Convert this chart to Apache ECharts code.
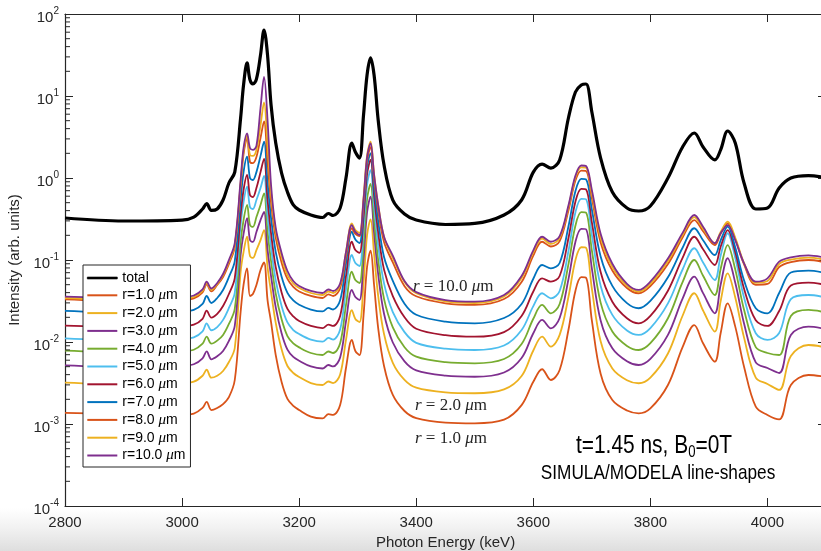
<!DOCTYPE html>
<html>
<head>
<meta charset="utf-8">
<script src="https://cdn.jsdelivr.net/npm/echarts@6/dist/echarts.min.js"></script>
<style>
html, body { margin: 0; padding: 0; background: #ffffff; }
#chart { width: 821px; height: 551px; }
</style>
</head>
<body>
<div id="chart"></div>
<script>
// Photon energy grid (keV) shared by every spectrum
const energy = [2800, 2900, 3000, 3020, 3035, 3042, 3050, 3060, 3070, 3080,
  3090, 3100, 3105, 3111, 3116, 3121, 3127, 3134, 3140, 3146,
  3152, 3160, 3170, 3180, 3190, 3200, 3220, 3240, 3250, 3258,
  3270, 3280, 3290, 3296, 3303, 3310, 3316, 3322, 3328, 3335,
  3345, 3360, 3380, 3400, 3450, 3500, 3550, 3580, 3600, 3615,
  3630, 3645, 3660, 3672, 3682, 3690, 3700, 3715, 3735, 3760,
  3780, 3800, 3830, 3855, 3875, 3890, 3910, 3920, 3932, 3945,
  3960, 3980, 4000, 4020, 4040, 4070, 4100];

// Total intensity (arb. units)
const total = [0.325, 0.299, 0.307, 0.334, 0.419, 0.489, 0.402, 0.419, 0.539, 0.869,
  1.18, 5.39, 13.6, 25.3, 15.7, 14.0, 16.1, 31.6, 63.8, 31.6,
  7.77, 2.67, 1.15, 0.675, 0.469, 0.407, 0.354, 0.330, 0.369, 0.349,
  0.431, 1.00, 2.67, 2.08, 1.75, 5.87, 18.0, 29.1, 18.0, 5.10,
  1.44, 0.539, 0.364, 0.307, 0.271, 0.279, 0.354, 0.539, 1.18, 1.48,
  1.32, 1.66, 5.39, 11.2, 13.6, 14.0, 6.38, 1.75, 0.675, 0.431,
  0.396, 0.456, 1.00, 2.39, 3.54, 2.39, 1.66, 2.20, 3.74, 2.67,
  0.869, 0.419, 0.431, 0.755, 1.00, 1.07, 1.01];

// Emission from shells of radius r
const r1 = [0.00137, 0.00132, 0.00129, 0.00134, 0.00157, 0.00186, 0.00148, 0.00157, 0.00175, 0.00213,
  0.00344, 0.0232, 0.0496, 0.0792, 0.0364, 0.0385, 0.0496, 0.0755, 0.0932, 0.0325,
  0.0175, 0.00693, 0.00325, 0.00202, 0.00166, 0.00148, 0.00123, 0.00117, 0.00132, 0.00129,
  0.00170, 0.00482, 0.0106, 0.00777, 0.00693, 0.0212, 0.0821, 0.130, 0.0496, 0.0148,
  0.00510, 0.00226, 0.00144, 0.00118, 0.00104, 0.00102, 0.00113, 0.00170, 0.00327, 0.00465,
  0.00344, 0.00456, 0.0140, 0.0422, 0.0617, 0.0608, 0.0183, 0.00411, 0.00196, 0.00146,
  0.00135, 0.00155, 0.00299, 0.00867, 0.0161, 0.00964, 0.00575, 0.0128, 0.0296, 0.0154,
  0.00500, 0.00163, 0.00129, 0.00114, 0.00299, 0.00396, 0.00374];
const r2 = [0.00319, 0.00306, 0.00315, 0.00328, 0.00388, 0.00459, 0.00367, 0.00388, 0.00443, 0.00570,
  0.00845, 0.0714, 0.125, 0.192, 0.112, 0.106, 0.132, 0.175, 0.232, 0.0821,
  0.0407, 0.0171, 0.00815, 0.00510, 0.00419, 0.00374, 0.00316, 0.00299, 0.00330, 0.00316,
  0.00402, 0.0106, 0.0245, 0.0191, 0.0175, 0.0529, 0.201, 0.313, 0.118, 0.0365,
  0.0125, 0.00558, 0.00345, 0.00277, 0.00243, 0.00237, 0.00264, 0.00385, 0.00788, 0.0116,
  0.00877, 0.0122, 0.0354, 0.100, 0.143, 0.141, 0.0448, 0.0102, 0.00476, 0.00342,
  0.00314, 0.00368, 0.00724, 0.0209, 0.0393, 0.0242, 0.0134, 0.0314, 0.0688, 0.0349,
  0.0113, 0.00367, 0.00308, 0.00260, 0.00675, 0.00919, 0.00857];
const r3 = [0.00520, 0.00498, 0.00513, 0.00535, 0.00633, 0.00770, 0.00615, 0.00669, 0.00777, 0.0103,
  0.0157, 0.115, 0.208, 0.323, 0.175, 0.166, 0.220, 0.307, 0.385, 0.134,
  0.0638, 0.0264, 0.0128, 0.00805, 0.00657, 0.00590, 0.00503, 0.00475, 0.00524, 0.00503,
  0.00647, 0.0178, 0.0431, 0.0354, 0.0325, 0.101, 0.380, 0.592, 0.215, 0.0673,
  0.0221, 0.00986, 0.00580, 0.00451, 0.00389, 0.00377, 0.00425, 0.00638, 0.0128, 0.0186,
  0.0147, 0.0196, 0.0580, 0.167, 0.240, 0.237, 0.0790, 0.0183, 0.00838, 0.00582,
  0.00524, 0.00622, 0.0122, 0.0338, 0.0626, 0.0394, 0.0224, 0.0500, 0.105, 0.0527,
  0.0168, 0.00564, 0.00482, 0.00419, 0.0122, 0.0154, 0.0144];
const r4 = [0.00783, 0.00751, 0.00772, 0.00805, 0.00954, 0.0116, 0.00954, 0.0104, 0.0122, 0.0166,
  0.0253, 0.166, 0.307, 0.469, 0.267, 0.253, 0.334, 0.469, 0.651, 0.220,
  0.0972, 0.0389, 0.0189, 0.0118, 0.00961, 0.00859, 0.00734, 0.00694, 0.00766, 0.00734,
  0.00964, 0.0283, 0.0720, 0.0570, 0.0524, 0.154, 0.553, 0.845, 0.308, 0.0994,
  0.0336, 0.0151, 0.00864, 0.00662, 0.00567, 0.00550, 0.00621, 0.00945, 0.0192, 0.0283,
  0.0224, 0.0291, 0.0886, 0.263, 0.383, 0.378, 0.131, 0.0302, 0.0134, 0.00896,
  0.00799, 0.00967, 0.0195, 0.0538, 0.100, 0.0642, 0.0374, 0.0777, 0.152, 0.0764,
  0.0247, 0.00867, 0.00734, 0.00694, 0.0208, 0.0246, 0.0229];
const r5 = [0.0111, 0.0106, 0.0109, 0.0114, 0.0135, 0.0169, 0.0139, 0.0152, 0.0186, 0.0260,
  0.0396, 0.267, 0.510, 0.783, 0.443, 0.419, 0.539, 0.755, 1.06, 0.347,
  0.143, 0.0565, 0.0275, 0.0173, 0.0140, 0.0125, 0.0107, 0.0101, 0.0112, 0.0107,
  0.0142, 0.0436, 0.115, 0.0919, 0.0845, 0.239, 0.826, 1.25, 0.456, 0.150,
  0.0518, 0.0231, 0.0132, 0.00978, 0.00828, 0.00799, 0.00906, 0.0140, 0.0274, 0.0393,
  0.0341, 0.0419, 0.128, 0.383, 0.558, 0.550, 0.203, 0.0486, 0.0214, 0.0138,
  0.0122, 0.0148, 0.0296, 0.0766, 0.139, 0.0930, 0.0570, 0.113, 0.212, 0.106,
  0.0348, 0.0128, 0.0106, 0.0129, 0.0334, 0.0374, 0.0349];
const r6 = [0.0158, 0.0152, 0.0156, 0.0163, 0.0192, 0.0241, 0.0198, 0.0220, 0.0275, 0.0385,
  0.0603, 0.354, 0.714, 1.09, 0.620, 0.586, 0.755, 1.18, 1.71, 0.545,
  0.211, 0.0817, 0.0402, 0.0253, 0.0205, 0.0180, 0.0157, 0.0148, 0.0163, 0.0157,
  0.0208, 0.0634, 0.167, 0.132, 0.122, 0.334, 1.11, 1.66, 0.615, 0.217,
  0.0764, 0.0363, 0.0200, 0.0145, 0.0121, 0.0116, 0.0132, 0.0208, 0.0413, 0.0598,
  0.0544, 0.0638, 0.184, 0.517, 0.738, 0.728, 0.287, 0.0712, 0.0310, 0.0195,
  0.0169, 0.0208, 0.0422, 0.106, 0.192, 0.135, 0.0869, 0.145, 0.232, 0.124,
  0.0447, 0.0184, 0.0157, 0.0239, 0.0489, 0.0529, 0.0496];
const r7 = [0.0239, 0.0229, 0.0236, 0.0246, 0.0291, 0.0364, 0.0299, 0.0344, 0.0431, 0.0620,
  0.0972, 0.539, 1.18, 1.82, 1.00, 0.945, 1.18, 1.86, 2.77, 0.881,
  0.325, 0.125, 0.0626, 0.0398, 0.0321, 0.0285, 0.0249, 0.0236, 0.0260, 0.0249,
  0.0323, 0.0904, 0.221, 0.178, 0.161, 0.427, 1.36, 2.00, 0.770, 0.297,
  0.109, 0.0558, 0.0293, 0.0215, 0.0177, 0.0169, 0.0196, 0.0291, 0.0591, 0.0869,
  0.0792, 0.0919, 0.256, 0.694, 0.978, 0.964, 0.413, 0.110, 0.0483, 0.0298,
  0.0258, 0.0317, 0.0615, 0.141, 0.244, 0.174, 0.115, 0.174, 0.255, 0.142,
  0.0564, 0.0258, 0.0224, 0.0396, 0.0704, 0.0741, 0.0694];
const r8 = [0.0332, 0.0318, 0.0327, 0.0341, 0.0404, 0.0505, 0.0415, 0.0496, 0.0620, 0.0894,
  0.144, 0.799, 1.96, 3.05, 1.57, 1.52, 1.80, 3.08, 4.91, 1.57,
  0.501, 0.186, 0.0927, 0.0587, 0.0469, 0.0413, 0.0364, 0.0344, 0.0380, 0.0364,
  0.0453, 0.111, 0.244, 0.208, 0.196, 0.511, 1.61, 2.37, 0.978, 0.403,
  0.166, 0.0935, 0.0480, 0.0361, 0.0296, 0.0283, 0.0334, 0.0539, 0.113, 0.167,
  0.146, 0.170, 0.402, 0.930, 1.23, 1.22, 0.570, 0.164, 0.0745, 0.0456,
  0.0393, 0.0480, 0.0891, 0.188, 0.307, 0.224, 0.152, 0.209, 0.280, 0.179,
  0.0886, 0.0498, 0.0510, 0.0821, 0.0945, 0.100, 0.0932];
const r9 = [0.0344, 0.0330, 0.0339, 0.0354, 0.0419, 0.0524, 0.0431, 0.0510, 0.0656, 0.0945,
  0.152, 0.869, 2.13, 3.28, 1.91, 1.86, 2.20, 4.43, 8.33, 2.53,
  0.656, 0.223, 0.110, 0.0656, 0.0517, 0.0456, 0.0396, 0.0374, 0.0413, 0.0396,
  0.0496, 0.125, 0.280, 0.232, 0.214, 0.575, 1.87, 2.77, 1.12, 0.474,
  0.191, 0.106, 0.0539, 0.0393, 0.0313, 0.0299, 0.0359, 0.0603, 0.124, 0.183,
  0.157, 0.186, 0.439, 1.02, 1.35, 1.34, 0.651, 0.188, 0.0824, 0.0487,
  0.0413, 0.0513, 0.0972, 0.202, 0.334, 0.241, 0.161, 0.220, 0.293, 0.187,
  0.0919, 0.0526, 0.0554, 0.0894, 0.101, 0.107, 0.100];
const r10 = [0.0357, 0.0344, 0.0354, 0.0369, 0.0437, 0.0544, 0.0449, 0.0524, 0.0675, 0.100,
  0.161, 0.945, 2.32, 3.51, 2.32, 2.20, 2.46, 7.14, 17.1, 5.10,
  0.822, 0.246, 0.122, 0.0734, 0.0554, 0.0482, 0.0419, 0.0396, 0.0437, 0.0419,
  0.0517, 0.125, 0.267, 0.220, 0.202, 0.550, 1.79, 2.65, 1.09, 0.467,
  0.192, 0.113, 0.0553, 0.0405, 0.0324, 0.0310, 0.0374, 0.0638, 0.131, 0.192,
  0.167, 0.196, 0.462, 1.07, 1.42, 1.40, 0.714, 0.209, 0.0899, 0.0513,
  0.0431, 0.0544, 0.104, 0.214, 0.354, 0.255, 0.160, 0.212, 0.267, 0.175,
  0.0912, 0.0544, 0.0598, 0.0954, 0.108, 0.114, 0.106];

const radiusNames = ['r=1.0 μm', 'r=2.0 μm', 'r=3.0 μm', 'r=4.0 μm', 'r=5.0 μm',
  'r=6.0 μm', 'r=7.0 μm', 'r=8.0 μm', 'r=9.0 μm', 'r=10.0 μm'];
const radiusSeries = [r1, r2, r3, r4, r5, r6, r7, r8, r9, r10];
const radiusColors = ['#D95319', '#EDB120', '#7E2F8E', '#77AC30', '#4DBEEE',
  '#A2142F', '#0072BD', '#D95319', '#EDB120', '#7E2F8E'];

const xTicks = { min: 2800, max: 4100, interval: 200 };
const yRange = { min: 1e-4, max: 1e2 };

// Minor tick positions of the logarithmic intensity axis (2..9 within each decade)
const minorTicks = [];
for (let d = -4; d < 2; d++) {
  for (let m = 2; m <= 9; m++) minorTicks.push(m * Math.pow(10, d));
}

const ink = '#262626';
const sans = "'Liberation Sans', Arial, Helvetica, sans-serif";
const serif = "'Liberation Serif', 'DejaVu Serif', serif";

const pairs = (ys) => energy.map((e, i) => [e, ys[i]]);

const series = [{
  name: 'total', type: 'line', data: pairs(total), symbol: 'none', smooth: 0.35,
  lineStyle: { color: '#000000', width: 3.2 }, itemStyle: { color: '#000000' }, z: 3
}];
radiusSeries.forEach((ys, k) => {
  series.push({
    name: radiusNames[k], type: 'line', data: pairs(ys), symbol: 'none', smooth: 0.35,
    lineStyle: { color: radiusColors[k], width: 1.8 }, itemStyle: { color: radiusColors[k] }, z: 4
  });
});
// short inward minor ticks on the left edge
series.push({
  type: 'custom', silent: true, xAxisIndex: 0, yAxisIndex: 0, z: 6,
  data: minorTicks.map(v => [xTicks.min, v]),
  renderItem: (params, api) => {
    const p = api.coord([api.value(0), api.value(1)]);
    return { type: 'line', shape: { x1: p[0], y1: p[1], x2: p[0] + 5, y2: p[1] },
      style: { stroke: ink, lineWidth: 1 } };
  }
});

const supLabel = (v) => '{b|10}{s|' + Math.round(Math.log10(v)) + '}';

// legend swatches: plain bars in each series colour
const legendData = [{ name: 'total', icon: 'rect', itemStyle: { color: '#000000', borderColor: '#000000', borderWidth: 0.6 } }]
  .concat(radiusNames.map((n, k) => ({ name: n, icon: 'rect', itemStyle: { color: radiusColors[k], borderWidth: 0 } })));

// serif labels naming individual curves
const curveLabel = (txt, x, y) => ({
  type: 'text', x: x, y: y, z: 20, silent: true,
  style: {
    text: txt, fill: ink, font: '17px ' + serif, textVerticalAlign: 'middle',
    rich: { i: { fontStyle: 'italic', fontFamily: serif, fontSize: 17 } }
  }
});

const option = {
  backgroundColor: '#ffffff',
  animation: false,
  grid: { left: 65, top: 14, right: -5, bottom: 45, containLabel: false, outerBoundsMode: 'none' },
  xAxis: [{
    type: 'value', min: xTicks.min, max: xTicks.max, interval: xTicks.interval,
    name: 'Photon Energy (keV)', nameLocation: 'middle', nameGap: 29,
    nameTextStyle: { color: ink, fontSize: 15, fontFamily: sans },
    axisLine: { show: true, lineStyle: { color: ink, width: 1.2 } },
    axisTick: { show: true, inside: true, length: 8, lineStyle: { color: ink } },
    axisLabel: { color: ink, fontSize: 15, fontFamily: sans, margin: 9, showMaxLabel: false,
      alignMinLabel: 'center', formatter: (v) => String(v) },
    splitLine: { show: false }
  }, {
    type: 'value', position: 'top', min: xTicks.min, max: xTicks.max, interval: xTicks.interval,
    axisLine: { show: true, lineStyle: { color: ink, width: 1.2 } },
    axisTick: { show: true, inside: true, length: 8, lineStyle: { color: ink } },
    axisLabel: { show: false }, splitLine: { show: false }
  }],
  yAxis: [{
    type: 'log', logBase: 10, min: yRange.min, max: yRange.max,
    name: 'Intensity (arb. units)', nameLocation: 'middle', nameGap: 33, nameRotate: 90,
    nameTextStyle: { color: ink, fontSize: 15, fontFamily: sans },
    axisLine: { show: true, lineStyle: { color: ink, width: 1.2 } },
    axisTick: { show: true, inside: true, length: 8, lineStyle: { color: ink } },
    axisLabel: {
      color: ink, margin: 6, formatter: supLabel,
      rich: {
        b: { fontSize: 15, fontFamily: sans, color: ink, lineHeight: 20, padding: [8, 0, 0, 0] },
        s: { fontSize: 10, fontFamily: sans, color: ink, lineHeight: 10, padding: [6, 0, 12, 0] }
      }
    },
    splitLine: { show: false }
  }, {
    type: 'log', logBase: 10, min: yRange.min, max: yRange.max, position: 'right',
    axisLine: { show: true, lineStyle: { color: ink, width: 1.2 } },
    axisTick: { show: true, inside: true, length: 8, lineStyle: { color: ink } },
    axisLabel: { show: false }, splitLine: { show: false }
  }],
  legend: {
    data: legendData,
    orient: 'vertical', left: 83, top: 265, z: 30,
    backgroundColor: '#ffffff', borderColor: ink, borderWidth: 1,
    padding: [6, 5, 4, 4], itemGap: 2.8, itemWidth: 30, itemHeight: 2,
    selectedMode: false,
    formatter: (name) => name.replace('μm', '{mu|μ}m'),
    textStyle: {
      color: '#000000', fontSize: 14, fontFamily: sans, lineHeight: 14,
      rich: { mu: { fontStyle: 'italic', fontFamily: serif, fontSize: 15, lineHeight: 14 } }
    }
  },
  graphic: [
    {
      type: 'rect', z: -10, silent: true,
      shape: { x: 0, y: 508, width: 821, height: 43 },
      style: {
        fill: new echarts.graphic.LinearGradient(0, 0, 0, 1, [
          { offset: 0, color: 'rgba(255,255,255,1)' },
          { offset: 0.45, color: '#f2f2f2' },
          { offset: 1, color: '#dedede' }
        ])
      }
    },
    curveLabel('{i|r} = 10.0 {i|μ}m', 413, 287),
    curveLabel('{i|r} = 2.0 {i|μ}m', 415, 406),
    curveLabel('{i|r} = 1.0 {i|μ}m', 415, 439),
    {
      type: 'text', x: 654, y: 446, z: 20, silent: true, scaleX: 0.82,
      style: {
        text: '{m|t=1.45 ns, B}{u|0}{m|=0T}', fill: '#000000',
        textAlign: 'center', textVerticalAlign: 'middle',
        rich: {
          m: { fontSize: 25.5, fontFamily: sans, lineHeight: 30, padding: [0, 0, 0, 0] },
          u: { fontSize: 16, fontFamily: sans, lineHeight: 16, padding: [14, 0, 0, 0] }
        }
      }
    },
    {
      type: 'text', x: 658, y: 473, z: 20, silent: true, scaleX: 0.82,
      style: {
        text: 'SIMULA/MODELA line-shapes', fill: '#000000',
        font: '21px ' + sans, textAlign: 'center', textVerticalAlign: 'middle'
      }
    }
  ],
  series: series
};

const chart = echarts.init(document.getElementById('chart'), null, { renderer: 'canvas' });
chart.setOption(option);
</script>
</body>
</html>
